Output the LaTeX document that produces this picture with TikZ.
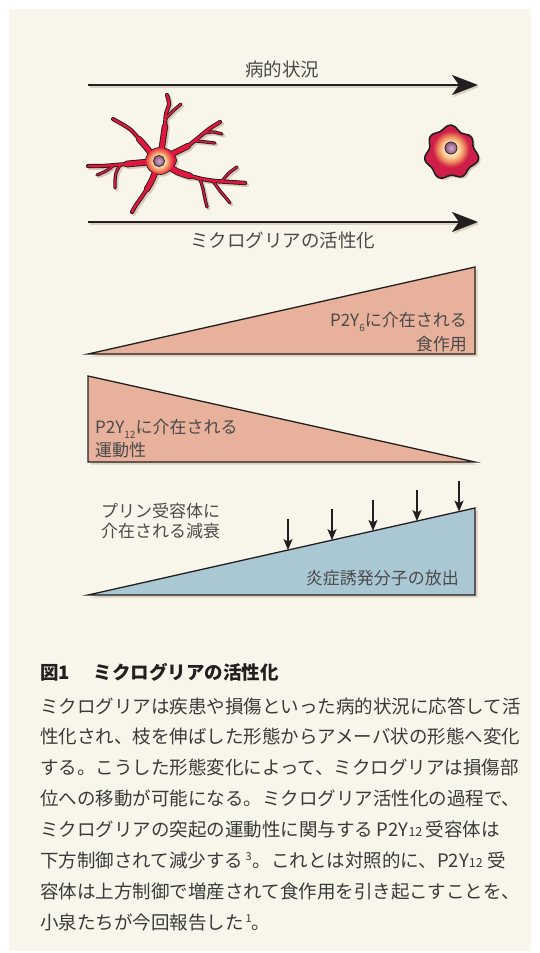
\documentclass[tikz,border=0pt]{standalone}
\usepackage{fontspec}
\setmainfont{Noto Sans CJK JP}
\usetikzlibrary{arrows.meta,calc}
% Japanese line breaking: a little stretch between characters for justified lines
\XeTeXlinebreaklocale "ja"
\XeTeXlinebreakskip=0pt plus 1pt

\definecolor{paper}{HTML}{F8F5EA}
\definecolor{ink}{HTML}{231F20}
\definecolor{salmon}{HTML}{E7B19B}
\definecolor{skyfill}{HTML}{AAC8D4}
\definecolor{shadowc}{HTML}{DCD0C0}
\definecolor{labelgray}{HTML}{4A4A4A}
\definecolor{captext}{HTML}{3A3A3A}
\definecolor{glred}{HTML}{E3173C}
\definecolor{amred}{HTML}{CF1F48}
\definecolor{glowA}{HTML}{F9DCA6}
\definecolor{glowB}{HTML}{F08A5E}
\definecolor{nucA}{HTML}{D2AECB}
\definecolor{nucB}{HTML}{87557A}
\definecolor{nucedge}{HTML}{3A2433}
\definecolor{glshadow}{HTML}{D8C9BA}

% radial glows (the path edge sits at 25bp)
\pgfdeclareradialshading{gliaglow}{\pgfpoint{0bp}{0bp}}{color(0bp)=(glowA); color(10bp)=(glowA); color(16bp)=(glowB); color(24bp)=(glred); color(50bp)=(glred)}
\pgfdeclareradialshading{amglow}{\pgfpoint{0bp}{0bp}}{color(0bp)=(glowA); color(10bp)=(glowA); color(17bp)=(glowB); color(24bp)=(amred); color(50bp)=(amred)}

% lowered index digits (P2Y6, P2Y12)
\newcommand\lowidx[1]{\raisebox{-5pt}{\fontsize{10}{10}\selectfont #1}}
% small raised reference numbers
\newcommand\refnum[1]{\raisebox{7pt}{\fontsize{11}{11}\selectfont #1}}
% receptor name in running text, index set small on the baseline
\newcommand\receptor[1]{P2Y{\fontsize{12.5}{12.5}\selectfont #1}}

% processes of the ramified microglia; width grows by \gx for the outline passes
\newcommand\gliabranches{%
 \draw[gw=4.6] plot[smooth] coordinates {(161,153) (163,140) (165,126)};
 \draw[gw=2.4] plot[smooth] coordinates {(165,126) (166,114) (169,104) (167,95)};
 \draw[gw=1.5] plot[smooth] coordinates {(166,118) (173,111) (181,104)};
 \draw[gw=4.6] plot[smooth] coordinates {(153,156) (146,147) (139,139)};
 \draw[gw=2.2] plot[smooth] coordinates {(139,139) (131,130) (122,124) (113,119)};
 \draw[gw=5] plot[smooth] coordinates {(149,162) (138,163) (127,164)};
 \draw[gw=2.4] plot[smooth] coordinates {(127,164) (115,165) (102,166) (88,166)};
 \draw[gw=1.5] plot[smooth] coordinates {(113,166) (106,171) (97,175)};
 \draw[gw=1.5] plot[smooth] coordinates {(120,165) (116,173) (115,181) (115,188)};
 \draw[gw=4.6] plot[smooth] coordinates {(156,170) (152,180) (147,189)};
 \draw[gw=2.4] plot[smooth] coordinates {(147,189) (141,198) (136,205) (132,212)};
 \draw[gw=4.6] plot[smooth] coordinates {(168,156) (178,151) (188,146)};
 \draw[gw=2.4] plot[smooth] coordinates {(188,146) (198,138) (209,129) (220,122)};
 \draw[gw=1.5] plot[smooth] coordinates {(204,133) (213,132) (222,134)};
 \draw[gw=1.5] plot[smooth] coordinates {(196,141) (206,142) (215,143)};
 \draw[gw=5] plot[smooth] coordinates {(168,166) (178,172) (190,176)};
 \draw[gw=2.6] plot[smooth] coordinates {(190,176) (202,179) (215,181) (230,182) (245,183)};
 \draw[gw=1.5] plot[smooth] coordinates {(222,181) (229,173) (237,167)};
 \draw[gw=1.5] plot[smooth] coordinates {(200,179) (203,189) (205,199) (207,207)};
 \draw[gw=1.5] plot[smooth] coordinates {(213,181) (220,191) (226,198) (230,203)};
}
\newcommand\gliabody[1]{\path[#1] plot[smooth cycle] coordinates {(146,160) (151,151) (160,148) (170,151) (176,160) (171,169) (161,174) (150,170)};}

\begin{document}
\begin{tikzpicture}[x=1pt,y=-1pt,
  gw/.style={line width=#1pt+\gx},
  lbl/.style={inner sep=0pt, text=labelgray, font=\fontsize{18.5}{18.5}\selectfont},
  tlbl/.style={inner sep=0pt, text=labelgray, font=\fontsize{17}{17}\selectfont},
  captxt/.style={inner sep=0pt, anchor=base west, text=captext, font=\fontsize{18.5}{18.5}\selectfont},
  bigarrow/.style={line width=2.3pt, -{Stealth[length=26pt,width=20pt,inset=7pt]}},
  smallarrow/.style={line width=1.5pt, draw=ink, -{Stealth[length=11pt,width=9pt,inset=2.5pt]}},
  wedge/.style={draw=ink, line width=1.3pt, line join=miter},
]
\useasboundingbox (0,0) rectangle (540,953);
\fill[white] (0,0) rectangle (540,953);
\fill[paper] (9,9) rectangle (531,951);

% ---- time axes ----
\coordinate (ax1s) at (88,85);   \coordinate (ax1e) at (478,85);
\coordinate (ax2s) at (88,222);  \coordinate (ax2e) at (478,222);
\draw[bigarrow, draw=shadowc] (89.5,87) -- (479.5,87);
\draw[bigarrow, draw=shadowc] (89.5,224) -- (479.5,224);
\draw[bigarrow, draw=ink] (ax1s) -- (ax1e);
\draw[bigarrow, draw=ink] (ax2s) -- (ax2e);
\node[lbl, anchor=base] (patho) at (282,76.5) {病的状況};
\node[lbl, anchor=base] (activ) at (282.5,247) {ミクログリアの活性化};

% ---- ramified microglia ----
\begin{scope}[shift={(1.8,1.8)}, color=glshadow, line cap=round, line join=round]
  \def\gx{1.8pt}\gliabranches\gliabody{fill=glshadow, draw=glshadow, line width=1.8pt}
\end{scope}
\begin{scope}[color=ink, line cap=round, line join=round]
  \def\gx{1.8pt}\gliabranches\gliabody{fill=ink, draw=ink, line width=1.8pt}
\end{scope}
\begin{scope}[color=glred, line cap=round, line join=round]
  \def\gx{0pt}\gliabranches\gliabody{fill=glred}
\end{scope}
\begin{scope}
  \gliabody{clip}
  \shade[shading=gliaglow] (159,161) circle (15);
\end{scope}
\shadedraw[inner color=nucA, outer color=nucB, draw=nucedge, line width=0.8pt] (159,161) circle (5.6);

% ---- amoeboid microglia ----
\fill[glshadow] plot[smooth cycle, variable=\t, samples=40, domain=0:351]
  ({453+(25+2*sin(7*\t)+1.2*sin(3*\t+40))*cos(\t)}, {155+(25+2*sin(7*\t)+1.2*sin(3*\t+40))*sin(\t)});
\fill[amred] plot[smooth cycle, variable=\t, samples=40, domain=0:351]
  ({451+(25+2*sin(7*\t)+1.2*sin(3*\t+40))*cos(\t)}, {153+(25+2*sin(7*\t)+1.2*sin(3*\t+40))*sin(\t)});
\shade[shading=amglow] (451,149) circle (19);
\draw[ink, line width=1.6pt, line join=round] plot[smooth cycle, variable=\t, samples=40, domain=0:351]
  ({451+(25+2*sin(7*\t)+1.2*sin(3*\t+40))*cos(\t)}, {153+(25+2*sin(7*\t)+1.2*sin(3*\t+40))*sin(\t)});
\shadedraw[inner color=nucA, outer color=nucB, draw=nucedge, line width=0.8pt] (451,148) circle (6);

% ---- P2Y6 wedge ----
\coordinate (t1a) at (88,354); \coordinate (t1b) at (475,267); \coordinate (t1c) at (475,354);
\fill[shadowc] (90.5,356.5) -- (477.5,269.5) -- (477.5,356.5) -- cycle;
\filldraw[wedge, fill=salmon] (t1a) -- (t1b) -- (t1c) -- cycle;
\node[tlbl, anchor=base east] (p6a) at (467,326.5) {P2Y\lowidx{6}に介在される};
\node[tlbl, anchor=base east] (p6b) at (467,350.5) {食作用};

% ---- P2Y12 wedge ----
\coordinate (t2a) at (88,376); \coordinate (t2b) at (88,462); \coordinate (t2c) at (475,462);
\fill[shadowc] (90.5,378.5) -- (90.5,464.5) -- (477.5,464.5) -- cycle;
\filldraw[wedge, fill=salmon] (t2a) -- (t2b) -- (t2c) -- cycle;
\node[tlbl, anchor=base west] (p12a) at (95,433.5) {P2Y\lowidx{12}に介在される};
\node[tlbl, anchor=base west] (p12b) at (95,456) {運動性};

% ---- inflammatory release wedge ----
\coordinate (t3a) at (88,595); \coordinate (t3b) at (475,508); \coordinate (t3c) at (475,595);
\fill[shadowc] (90.5,597.5) -- (477.5,510.5) -- (477.5,597.5) -- cycle;
\filldraw[wedge, fill=skyfill] (t3a) -- (t3b) -- (t3c) -- cycle;
\node[tlbl, anchor=base east] (infl) at (459,584.5) {炎症誘発分子の放出};
\node[tlbl, anchor=base west] (pura) at (101,517.5) {プリン受容体に};
\node[tlbl, anchor=base west] (purb) at (101,537.5) {介在される減衰};
\foreach \f/\n in {0.5168/1, 0.6305/2, 0.7364/3, 0.8501/4, 0.9587/5}{
  \coordinate (d\n) at ($(t3a)!\f!(t3b)$);
  \draw[smallarrow] ($(d\n)+(0,-31)$) -- (d\n);
}

% ---- caption ----
\node[captxt, text=ink] (cap0) at (40,679) {\bfseries 図1\hspace{24pt}ミクログリアの活性化};
\node[captxt] (cap1) at (40,713.0) {ミクログリアは疾患や損傷といった病的状況に応答して活};
\node[captxt] (cap2) at (40,743.9) {性化され、枝を伸ばした形態からアメーバ状の形態へ変化};
\node[captxt] (cap3) at (40,774.8) {する。こうした形態変化によって、ミクログリアは損傷部};
\node[captxt] (cap4) at (40,805.7) {位への移動が可能になる。ミクログリア活性化の過程で、};
\node[captxt] (cap5) at (40,836.6) {\hbox to 482pt{ミクログリアの突起の運動性に関与する\hspace{3.5pt}\receptor{12}\hspace{3.5pt}受容体は}};
\node[captxt] (cap6) at (40,867.5) {\hbox to 482pt{下方制御されて減少する\hspace{2.5pt}\refnum{3}\hspace{1pt}。これとは対照的に、\receptor{12}\hspace{5pt}受}};
\node[captxt] (cap7) at (40,898.4) {容体は上方制御で増産されて食作用を引き起こすことを、};
\node[captxt] (cap8) at (40,929.3) {小泉たちが今回報告した\hspace{2pt}\refnum{1}。};
\end{tikzpicture}
\end{document}
